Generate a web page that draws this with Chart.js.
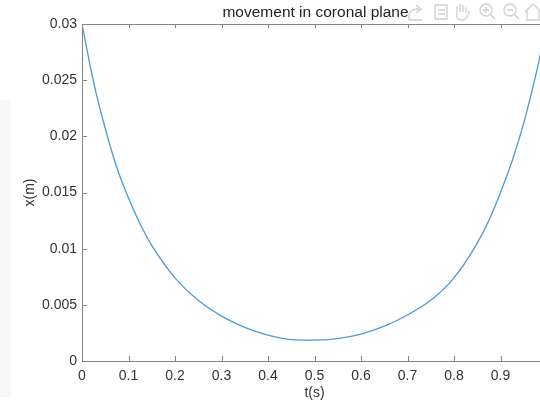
<!DOCTYPE html>
<html>
<head>
<meta charset="utf-8">
<script src="https://cdn.jsdelivr.net/npm/chart.js@4"></script>
<style>
    html, body { margin: 0; padding: 0; background: #ffffff; overflow: hidden; }
    #wrap { position: relative; width: 540px; height: 402px; overflow: hidden; }
    #strip { position: absolute; left: 0; top: 100px; width: 11px; height: 297px; background: #f7f7f7; }
    #plot { position: absolute; left: 0; top: 0; }
</style>
</head>
<body>
<div id="wrap">
    <div id="strip"></div>
    <canvas id="plot" width="560" height="402"></canvas>
</div>
<script>
// values
const times = [0, 0.025, 0.05, 0.075, 0.1, 0.125, 0.15, 0.2, 0.25, 0.3, 0.35, 0.4, 0.45, 0.5,
    0.55, 0.6, 0.65, 0.7, 0.75, 0.8, 0.85, 0.875, 0.9, 0.925, 0.95, 0.975, 1.0];
const positions = [0.0300, 0.0248, 0.0207, 0.0172, 0.0145, 0.0122, 0.0103, 0.0074, 0.0054, 0.0040, 0.0030, 0.0023, 0.0019, 0.00185,
    0.0020, 0.0024, 0.0031, 0.0041, 0.0054, 0.0074, 0.0105, 0.0125, 0.0150, 0.0178, 0.0212, 0.0253, 0.0300];
const xTickStep = 0.1;
const yTickStep = 0.005;

const chartTitle = "movement in coronal plane";
const xLabel = "t(s)";
const yLabel = "x(m)";

const font = "'Liberation Sans', Arial, sans-serif";
const axisColor = "#858585";
const textColor = "#333333";

const framePlugin = {
    id: "frame",
    afterDraw(chart) {
        const ctx = chart.ctx;
        const { left, top, right, bottom } = chart.chartArea;
        const x = chart.scales.x;
        const y = chart.scales.y;
        ctx.save();
        ctx.strokeStyle = axisColor;
        ctx.lineWidth = 1;
        ctx.beginPath();
        ctx.moveTo(left + 0.5, top + 0.5);
        ctx.lineTo(left + 0.5, bottom + 0.5);
        ctx.lineTo(right, bottom + 0.5);
        ctx.moveTo(left, top + 0.5);
        ctx.lineTo(right, top + 0.5);
        ctx.moveTo(right + 0.5, top);
        ctx.lineTo(right + 0.5, bottom);
        x.ticks.forEach(t => {
            const px = Math.round(x.getPixelForValue(t.value)) + 0.5;
            ctx.moveTo(px, bottom);
            ctx.lineTo(px, bottom - 5);
            ctx.moveTo(px, top);
            ctx.lineTo(px, top + 4);
        });
        y.ticks.forEach(t => {
            const py = Math.round(y.getPixelForValue(t.value)) + 0.5;
            ctx.moveTo(left, py);
            ctx.lineTo(left + 5, py);
        });
        ctx.stroke();

        // title above the axes
        ctx.fillStyle = "#222222";
        ctx.font = "15.5px " + font;
        ctx.textAlign = "center";
        ctx.textBaseline = "middle";
        ctx.fillText(chartTitle, (left + right) / 2 + 1, 13);

        // faint axes toolbar
        ctx.strokeStyle = "#cfcfcf";
        ctx.lineWidth = 1.3;
        ctx.beginPath();
        // export
        ctx.moveTo(409, 20); ctx.lineTo(409, 14); ctx.quadraticCurveTo(411, 9, 419, 9);
        ctx.moveTo(416, 5); ctx.lineTo(421, 9); ctx.lineTo(416, 13);
        ctx.moveTo(409, 20); ctx.lineTo(422, 20);
        // data tip
        ctx.rect(435, 5, 12, 14);
        ctx.moveTo(438, 10); ctx.lineTo(445, 10);
        ctx.moveTo(438, 14); ctx.lineTo(445, 14);
        // pan hand
        ctx.moveTo(457, 13); ctx.lineTo(457, 6);
        ctx.moveTo(460, 12); ctx.lineTo(460, 4);
        ctx.moveTo(463, 12); ctx.lineTo(463, 5);
        ctx.moveTo(466, 13); ctx.lineTo(466, 7);
        ctx.moveTo(457, 13); ctx.quadraticCurveTo(455, 19, 461, 20);
        ctx.lineTo(464, 20); ctx.quadraticCurveTo(468, 18, 469, 11);
        // zoom in
        ctx.moveTo(492, 10); ctx.arc(486, 10, 6, 0, Math.PI * 2);
        ctx.moveTo(490.5, 14.5); ctx.lineTo(495, 19);
        ctx.moveTo(483, 10); ctx.lineTo(489, 10);
        ctx.moveTo(486, 7); ctx.lineTo(486, 13);
        // zoom out
        ctx.moveTo(516, 10); ctx.arc(510, 10, 6, 0, Math.PI * 2);
        ctx.moveTo(514.5, 14.5); ctx.lineTo(519, 19);
        ctx.moveTo(507, 10); ctx.lineTo(513, 10);
        // home
        ctx.moveTo(525, 12); ctx.lineTo(533, 4); ctx.lineTo(541, 12);
        ctx.moveTo(527, 10); ctx.lineTo(527, 20); ctx.lineTo(539, 20); ctx.lineTo(539, 10);
        ctx.stroke();
        ctx.restore();
    }
};

const plot = document.getElementById("plot");

new Chart(plot, {
    type: "line",
    data: {
        datasets: [{
            data: times.map((t, i) => ({ x: t, y: positions[i] })),
            borderColor: "#4a9bd8",
            borderWidth: 1.3,
            pointRadius: 0,
            fill: false,
            cubicInterpolationMode: "monotone"
        }]
    },
    options: {
        responsive: false,
        animation: false,
        layout: { padding: { left: 0, right: 13, top: 24, bottom: 0 } },
        plugins: {
            legend: { display: false },
            tooltip: { enabled: false },
            title: { display: false }
        },
        scales: {
            x: {
                type: "linear",
                min: 0,
                max: 1,
                afterFit: s => { s.height = 41; },
                grid: { display: false, drawTicks: false },
                border: { display: false },
                ticks: {
                    stepSize: xTickStep,
                    padding: 7,
                    color: textColor,
                    font: { family: font, size: 14 },
                    maxRotation: 0,
                    autoSkip: false,
                    callback: v => String(+v.toFixed(3))
                },
                title: {
                    display: true,
                    text: xLabel,
                    color: textColor,
                    font: { family: font, size: 14 },
                    padding: { top: 0, bottom: 0 }
                }
            },
            y: {
                min: 0,
                max: 0.03,
                afterFit: s => { s.width = 82; },
                grid: { display: false, drawTicks: false },
                border: { display: false },
                ticks: {
                    stepSize: yTickStep,
                    padding: 5,
                    color: textColor,
                    font: { family: font, size: 14 },
                    callback: v => String(+v.toFixed(4))
                },
                title: {
                    display: true,
                    text: yLabel,
                    color: textColor,
                    font: { family: font, size: 14 },
                    padding: { top: 22, bottom: 0 }
                }
            }
        }
    },
    plugins: [framePlugin]
});
</script>
</body>
</html>
